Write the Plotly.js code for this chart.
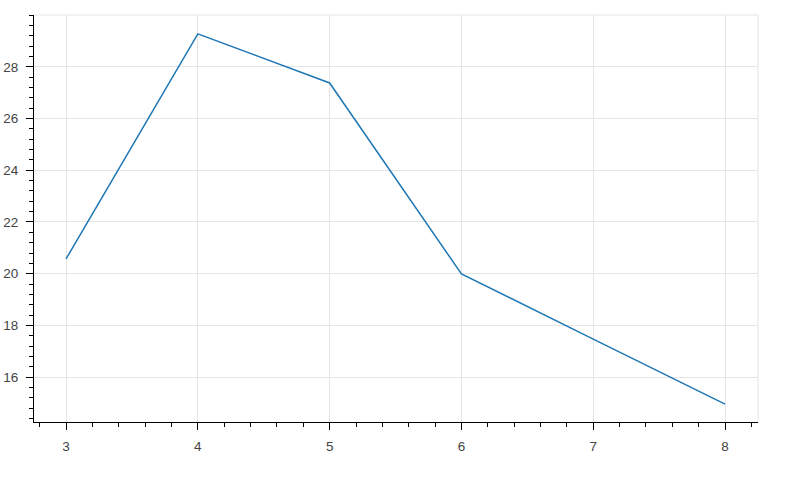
<!DOCTYPE html>
<html>
<head>
<meta charset="utf-8">
<script src="https://cdn.plot.ly/plotly-3.0.1.min.js"></script>
<style>html,body{margin:0;padding:0;background:#fff;}#chart{width:800px;height:478px;}</style>
</head>
<body>
<div id="chart"></div>
<script>
const xValues = [3, 4, 5, 6, 7, 8];
const yValues = [20.57, 29.28, 27.38, 19.99, 17.47, 14.95];
const yTickVals = [16, 18, 20, 22, 24, 26, 28];
const xTickVals = [3, 4, 5, 6, 7, 8];

const trace = {
  x: xValues,
  y: yValues,
  type: 'scatter',
  mode: 'lines',
  line: {color: '#1f77b4', width: 1.5},
  hoverinfo: 'x+y'
};

const font = {family: 'Helvetica, "Liberation Sans", Arial, sans-serif', size: 13.5, color: '#444'};

const layout = {
  width: 800,
  height: 478,
  margin: {l: 34, r: 42, t: 15, b: 56},
  paper_bgcolor: '#fff',
  plot_bgcolor: '#fff',
  showlegend: false,
  font: font,
  xaxis: {
    range: [2.757, 8.25],
    tickvals: xTickVals,
    ticktext: xTickVals.map(String),
    showgrid: true,
    gridcolor: '#e5e5e5',
    gridwidth: 1,
    zeroline: false,
    showline: true,
    linecolor: '#000',
    linewidth: 1,
    ticks: 'outside',
    ticklen: 7,
    tickcolor: '#000',
    tickfont: font,
    ticklabelstandoff: 5,
    minor: {dtick: 0.2, tick0: 0, ticks: 'outside', ticklen: 4, tickcolor: '#000', showgrid: false}
  },
  yaxis: {
    range: [14.26, 30.01],
    tickvals: yTickVals,
    ticktext: yTickVals.map(String),
    showgrid: true,
    gridcolor: '#e5e5e5',
    gridwidth: 1,
    zeroline: false,
    showline: true,
    linecolor: '#000',
    linewidth: 1,
    ticks: 'outside',
    ticklen: 7,
    tickcolor: '#000',
    tickfont: font,
    ticklabelstandoff: 5,
    minor: {dtick: 0.4, tick0: 0, ticks: 'outside', ticklen: 4, tickcolor: '#000', showgrid: false}
  },
  shapes: [
    {type: 'line', xref: 'paper', yref: 'paper', x0: 0, x1: 1, y0: 1, y1: 1, line: {color: '#e5e5e5', width: 1}},
    {type: 'line', xref: 'paper', yref: 'paper', x0: 1, x1: 1, y0: 0, y1: 1, line: {color: '#e5e5e5', width: 1}}
  ]
};

Plotly.newPlot('chart', [trace], layout, {displayModeBar: false, staticPlot: true});
</script>
</body>
</html>
